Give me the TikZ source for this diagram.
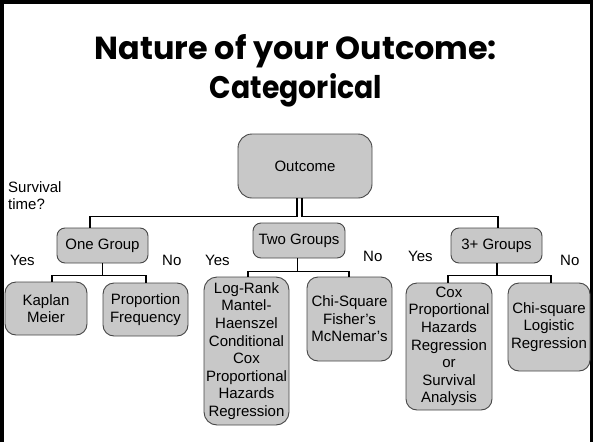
\documentclass[tikz,border=0pt]{standalone}
\usepackage{fontspec}
\usepackage{graphicx}
\setmainfont{Liberation Sans}
\newfontfamily\titlefont{Poppins}
\definecolor{boxfill}{RGB}{200,200,200}
\definecolor{boxline}{RGB}{70,70,70}
\tikzset{
  box/.style={draw=boxline, line width=0.9pt, fill=boxfill, rounded corners=8pt,
    inner sep=0pt, align=center, font=\fontsize{15}{17.6}\selectfont},
  tallbox/.style={box, rounded corners=11pt},
  conn/.style={draw=black, line width=1.8pt, line join=miter},
  lbl/.style={inner sep=0pt, anchor=base west, font=\fontsize{15}{17.6}\selectfont},
  ttl/.style={inner sep=0pt, anchor=base}
}
\begin{document}
\begin{tikzpicture}[x=1pt,y=-1pt]
\useasboundingbox (0,0) rectangle (594,442);
% frame
\draw[line width=3.6pt, line join=miter] (1.8,442) -- (1.8,2) -- (591.5,2) -- (591.5,442);
% title
\node[ttl] (t1) at (296,59) {\resizebox{402pt}{25pt}{\titlefont\bfseries Nature of your Outcome:}};
\node[ttl] (t2) at (296,98) {\resizebox{172pt}{25pt}{\titlefont\bfseries Categorical}};
% boxes
\node[box, rounded corners=14pt, minimum width=134pt, minimum height=64pt] (outcome) at (305,166) {Outcome};
\node[box, minimum width=91pt, minimum height=35pt] (one) at (102.5,245.5) {One Group};
\node[box, minimum width=92pt, minimum height=35pt] (two) at (299,240.5) {Two Groups};
\node[box, minimum width=91pt, minimum height=35pt] (three) at (496.5,245.5) {3+ Groups};
\node[tallbox, minimum width=82pt, minimum height=53pt] (kaplan) at (46,308.5) {Kaplan\\Meier};
\node[tallbox, minimum width=85pt, minimum height=53pt] (prop) at (145.5,309.5) {Proportion\\Frequency};
\node[tallbox, rounded corners=13pt, minimum width=85pt, minimum height=148pt] (logrank) at (246.5,351) {Log-Rank\\Mantel-\\Haenszel\\Conditional\\Cox\\Proportional\\Hazards\\Regression};
\node[tallbox, minimum width=85pt, minimum height=84pt] (chisq) at (349.5,319) {Chi-Square\\Fisher's\\McNemar's};
\node[tallbox, minimum width=86pt, minimum height=127pt] (cox) at (449,346.5) {Cox\\Proportional\\Hazards\\Regression\\or\\Survival\\Analysis};
\node[tallbox, minimum width=82pt, minimum height=88pt] (logistic) at (549,327) {Chi-square\\Logistic\\Regression};
% labels
\node[lbl] (surv) at (8,192) {Survival};
\node[lbl] (time) at (8,209.5) {time?};
\node[lbl] (y1) at (10,265) {Yes};
\node[lbl] (n1) at (162,265) {No};
\node[lbl] (y2) at (205,265) {Yes};
\node[lbl] (n2) at (363,261) {No};
\node[lbl] (y3) at (408,261) {Yes};
\node[lbl] (n3) at (560,265) {No};
% connectors
\draw[conn] ([xshift=-8pt]outcome.south) -- ++(0,18) -| ([xshift=-12.5pt]one.north);
\draw[conn] ([xshift=-3pt]outcome.south) -- ++(0,18) -| ([xshift=1.5pt]three.north);
\draw[conn] (one.south) -- ++(0,12) coordinate (oj);
\draw[conn] ([xshift=6pt]kaplan.north) |- (oj) -| ([xshift=0.5pt]prop.north);
\draw[conn] ([xshift=-1.5pt]two.south) -- ++(0,13) coordinate (tj);
\draw[conn] ([xshift=1.5pt]logrank.north) |- (tj) -| ([xshift=-0.5pt]chisq.north);
\draw[conn] ([xshift=0.5pt]three.south) -- ++(0,12) coordinate (hj);
\draw[conn] ([xshift=-1pt]cox.north) |- (hj) -| ([xshift=2pt]logistic.north);
\end{tikzpicture}
\end{document}
